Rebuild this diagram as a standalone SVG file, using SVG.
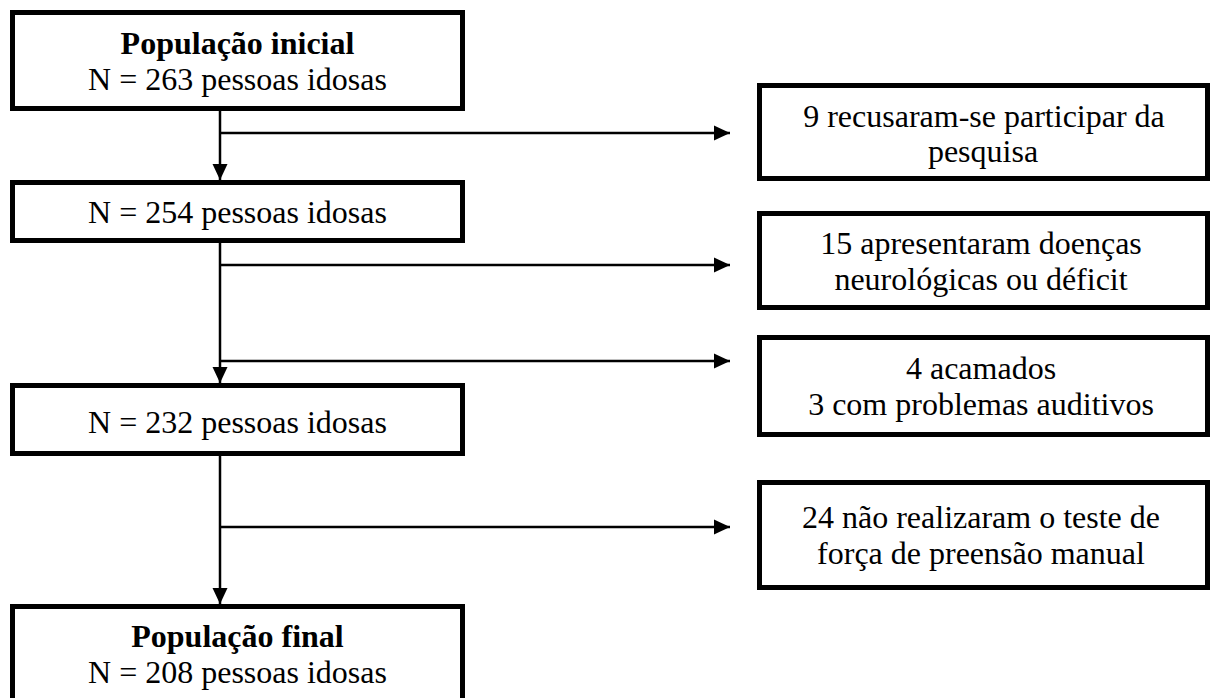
<svg xmlns="http://www.w3.org/2000/svg" width="1212" height="698" viewBox="0 0 1212 698">
<style>
.box{fill:#fff;stroke:#000;stroke-width:5}
.t{font-family:"Liberation Serif","Times New Roman",serif;font-size:32px;fill:#000;text-anchor:middle}
.b{font-weight:bold}
.c{stroke:#000;stroke-width:2.5;fill:none}
</style>
<defs>
<marker id="ah" markerUnits="userSpaceOnUse" markerWidth="16" markerHeight="16" viewBox="0 0 16 16" refX="16" refY="8" orient="auto">
<path d="M0,0.5 L16,8 L0,15.5 z" fill="#000"/>
</marker>
</defs>
<rect width="1212" height="698" fill="#fff"/>
<g id="connectors">
<line class="c" x1="220" y1="111" x2="220" y2="180" marker-end="url(#ah)"/>
<line class="c" x1="220" y1="243" x2="220" y2="383" marker-end="url(#ah)"/>
<line class="c" x1="220" y1="456" x2="220" y2="604" marker-end="url(#ah)"/>
<line class="c" x1="220" y1="133" x2="730" y2="133" marker-end="url(#ah)"/>
<line class="c" x1="220" y1="265" x2="730" y2="265" marker-end="url(#ah)"/>
<line class="c" x1="220" y1="361" x2="730" y2="361" marker-end="url(#ah)"/>
<line class="c" x1="220" y1="527" x2="730" y2="527" marker-end="url(#ah)"/>
</g>
<g id="n1">
<rect class="box" x="12.5" y="12.5" width="450" height="96"/>
<text class="t b" x="237.5" y="54">População inicial</text>
<text class="t" x="237.5" y="89.5">N = 263 pessoas idosas</text>
</g>
<g id="n2">
<rect class="box" x="12.5" y="182.5" width="450" height="58"/>
<text class="t" x="237.5" y="223">N = 254 pessoas idosas</text>
</g>
<g id="n3">
<rect class="box" x="12.5" y="385.5" width="450" height="68"/>
<text class="t" x="237.5" y="433">N = 232 pessoas idosas</text>
</g>
<g id="n4">
<rect class="box" x="12.5" y="606.5" width="450" height="100"/>
<text class="t b" x="237.5" y="647">População final</text>
<text class="t" x="237.5" y="683">N = 208 pessoas idosas</text>
</g>
<g id="e1">
<rect class="box" x="759.5" y="85.5" width="448" height="93"/>
<text class="t" x="984" y="127">9 recusaram-se participar da</text>
<text class="t" x="983" y="162">pesquisa</text>
</g>
<g id="e2">
<rect class="box" x="759.5" y="213.5" width="448" height="94"/>
<text class="t" x="981" y="254">15 apresentaram doenças</text>
<text class="t" x="981" y="290">neurológicas ou déficit</text>
</g>
<g id="e3">
<rect class="box" x="759.5" y="337.5" width="448" height="97"/>
<text class="t" x="981" y="379">4 acamados</text>
<text class="t" x="981" y="415">3 com problemas auditivos</text>
</g>
<g id="e4">
<rect class="box" x="759.5" y="482.5" width="448" height="105"/>
<text class="t" x="981" y="528">24 não realizaram o teste de</text>
<text class="t" x="981" y="564">força de preensão manual</text>
</g>
</svg>
